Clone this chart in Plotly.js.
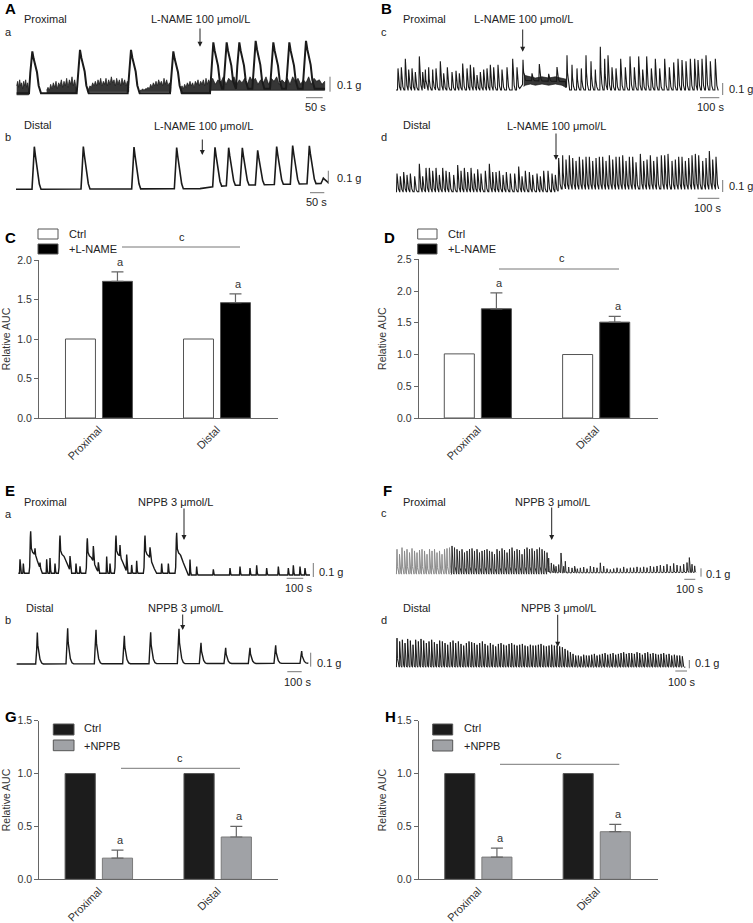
<!DOCTYPE html>
<html><head><meta charset="utf-8">
<script src="https://cdn.plot.ly/plotly-3.0.1.min.js"></script>
<style>html,body{margin:0;padding:0;background:#fff}#chart{width:753px;height:923px}</style>
</head><body><div id="chart"></div>
<script>
// ---------------- DATA ----------------
const cats = ['Proximal', 'Distal'];
// Bar panels (relative AUC)
const cCtrl = [1.0, 1.0], cLname = [1.73, 1.46], cErr = [0.12, 0.11];
const dCtrl = [1.01, 1.0], dLname = [1.72, 1.51], dErr = [0.25, 0.09];
const gCtrl = [1.0, 1.0], gNppb = [0.20, 0.40], gErr = [0.075, 0.10];
const hCtrl = [1.0, 1.0], hNppb = [0.21, 0.45], hErr = [0.085, 0.07];

// Panel A a (proximal): peak times (s) and amplitudes (g)
const aaPeakT = [97, 240, 393, 520, 640, 680, 718, 767, 820, 868, 918];
const aaPeakH = [0.28, 0.29, 0.29, 0.28, 0.31, 0.31, 0.31, 0.32, 0.31, 0.31, 0.32];
const aaBaseT = [50, 630, 640, 975];
const aaBaseY = [0, 0, 0.03, 0.03];
// noisy baseline bands: start time, sampling step, upper envelope, lower level
const aaNoiseStart = [50, 140, 262, 420, 542, 630];
const aaNoiseStep = [3, 4, 4, 4, 4, 8];
const aaNoiseHi = [
  [0.05, 0.08, 0.04, 0.09, 0.05, 0.07, 0.03, 0.08, 0.05, 0.09, 0.04, 0.07, 0.02],
  [0.02, 0.04, 0.02, 0.06, 0.03, 0.07, 0.04, 0.08, 0.03, 0.07, 0.05, 0.09, 0.04, 0.08, 0.05, 0.1, 0.04, 0.09, 0.06, 0.11, 0.05, 0.09, 0.04],
  [0.02, 0.03, 0.05, 0.04, 0.07, 0.05, 0.08, 0.05, 0.09, 0.06, 0.1, 0.05, 0.08, 0.06, 0.1, 0.05, 0.09, 0.06, 0.11, 0.07, 0.09, 0.05, 0.1, 0.06, 0.09, 0.05, 0.1, 0.06, 0.09, 0.05, 0.08, 0.04],
  [0.02, 0.02, 0.03, 0.02, 0.03, 0.03, 0.04, 0.03, 0.06, 0.04, 0.07, 0.05, 0.08, 0.05, 0.09, 0.06, 0.08, 0.05, 0.1, 0.06, 0.09, 0.05, 0.07, 0.04],
  [0.03, 0.05, 0.03, 0.06, 0.04, 0.07, 0.05, 0.08, 0.05, 0.07, 0.04, 0.08, 0.06, 0.09, 0.05, 0.08, 0.06, 0.09, 0.05, 0.1, 0.06, 0.09, 0.07],
  [0.07, 0.1, 0.06, 0.09, 0.07, 0.11, 0.06, 0.1, 0.08, 0.11, 0.06, 0.09, 0.07, 0.1, 0.06, 0.11, 0.08, 0.1, 0.06, 0.09, 0.07, 0.11, 0.06, 0.1, 0.08, 0.11, 0.06, 0.09, 0.07, 0.1, 0.06, 0.11, 0.08, 0.1, 0.06, 0.09, 0.07, 0.11, 0.06, 0.1, 0.08, 0.09, 0.06, 0.08]
];
const aaNoiseLo = [-0.01, 0, 0.01, 0.01, 0, 0.02];
// Panel A b (distal)
const abPeakT = [103, 250, 402, 530, 645, 686, 727, 773, 830, 878, 928, 970];
const abPeakH = [0.32, 0.32, 0.315, 0.31, 0.295, 0.285, 0.28, 0.26, 0.285, 0.29, 0.285, 0.04];
const abBaseT = [48, 600, 640, 700, 800, 900, 985];
const abBaseY = [0, 0.005, 0.02, 0.03, 0.035, 0.04, 0.045];
// Panel B c (proximal)
const bcPeakT = [36, 56, 80, 100, 120, 140, 164, 184, 200, 220, 244, 264, 290, 310, 332, 360, 384, 404, 424, 450, 470, 490, 510, 530, 550, 570, 590, 610, 636, 660, 690, 724, 750, 786,
  840, 884, 940, 990,
  1050, 1080, 1110, 1136, 1164, 1194, 1220, 1250, 1276, 1296, 1320, 1344, 1372, 1400, 1428, 1454, 1480, 1504, 1528, 1556, 1580, 1606, 1636, 1664, 1690, 1716, 1740, 1764, 1790, 1816, 1836, 1860, 1884, 1910, 1940];
const bcPeakH = [0.18, 0.19, 0.26, 0.17, 0.18, 0.15, 0.28, 0.15, 0.17, 0.19, 0.17, 0.18, 0.24, 0.14, 0.19, 0.15, 0.16, 0.14, 0.22, 0.18, 0.21, 0.19, 0.125, 0.15, 0.17, 0.18, 0.21, 0.19, 0.21, 0.17, 0.19, 0.26, 0.19, 0.2,
  0.06, 0.14, 0.06, 0.12,
  0.29, 0.21, 0.18, 0.18, 0.29, 0.24, 0.17, 0.36, 0.26, 0.29, 0.19, 0.18, 0.26, 0.19, 0.28, 0.19, 0.28, 0.17, 0.28, 0.18, 0.26, 0.18, 0.26, 0.19, 0.23, 0.26, 0.25, 0.24, 0.26, 0.26, 0.25, 0.26, 0.29, 0.24, 0.26];
const bcBaseT = [24, 760, 790, 800, 1040, 1050, 1960];
const bcBaseY = [0, 0, 0.06, 0.08, 0.07, 0, 0];
const bcNoiseT = [790, 800, 830, 860, 900, 940, 980, 1020, 1044];
const bcNoiseHi = [0.14, 0.12, 0.11, 0.1, 0.11, 0.1, 0.11, 0.1, 0.09];
const bcNoiseLo = [0.03, 0.04, 0.05, 0.04, 0.05, 0.04, 0.05, 0.04, 0.02];
// Panel B d (distal)
const bdPeakT = [30, 50, 70, 90, 110, 136, 164, 184, 204, 224, 244, 264, 284, 304, 324, 344, 370, 394, 414, 434, 454, 474, 494, 514, 534, 560, 584, 604, 624, 644, 666, 686, 710, 736, 760, 780, 800, 824, 844, 870, 890, 910, 936, 960, 980, 1000, 1024, 1044, 1064, 1084, 1104, 1124, 1144, 1164, 1184, 1204, 1224, 1244, 1264, 1284, 1304, 1324, 1344, 1364, 1384, 1404, 1424, 1444, 1464, 1490, 1510, 1530, 1550, 1570, 1590, 1616, 1636, 1656, 1680, 1700, 1720, 1740, 1760, 1780, 1800, 1820, 1840, 1864, 1884, 1904, 1924, 1944];
const bdPeakH = [0.13, 0.11, 0.14, 0.12, 0.13, 0.11, 0.20, 0.11, 0.17, 0.17, 0.15, 0.17, 0.12, 0.17, 0.15, 0.14, 0.12, 0.19, 0.15, 0.17, 0.14, 0.17, 0.13, 0.16, 0.13, 0.15, 0.20, 0.14, 0.14, 0.15, 0.12, 0.14, 0.13, 0.13, 0.18, 0.11, 0.15, 0.14, 0.12, 0.13, 0.11, 0.15, 0.15, 0.13, 0.12, 0.23, 0.24, 0.21, 0.24, 0.22, 0.20, 0.23, 0.21, 0.23, 0.23, 0.20, 0.22, 0.23, 0.23, 0.20, 0.24, 0.21, 0.23, 0.23, 0.24, 0.20, 0.23, 0.23, 0.19, 0.25, 0.20, 0.21, 0.24, 0.20, 0.23, 0.24, 0.24, 0.25, 0.20, 0.21, 0.23, 0.23, 0.20, 0.22, 0.24, 0.25, 0.24, 0.20, 0.22, 0.27, 0.21, 0.23];
const bdBaseT = [24, 990, 1010, 1960];
const bdBaseY = [0, 0, 0.02, 0.02];
// Panel E a (proximal)
const eaPeakT = [184, 360, 524, 696, 870, 1060];
const eaPeakH = [0.30, 0.27, 0.25, 0.27, 0.27, 0.29];
const eaSpikeT = [120, 140, 210, 240, 280, 300, 330, 420, 456, 480, 560, 590, 640, 660, 720, 760, 790, 820, 900, 970, 1010, 1140, 1180, 1280, 1380, 1440, 1500, 1540, 1600, 1670, 1730, 1760, 1800, 1830];
const eaSpikeH = [0.10, 0.07, 0.05, 0.04, 0.10, 0.11, 0.07, 0.10, 0.07, 0.05, 0.11, 0.07, 0.12, 0.07, 0.08, 0.12, 0.06, 0.09, 0.08, 0.07, 0.07, 0.11, 0.06, 0.04, 0.05, 0.06, 0.05, 0.07, 0.05, 0.06, 0.05, 0.07, 0.06, 0.05];
const eaBaseT = [110, 1080, 1100, 1860];
const eaBaseY = [0.012, 0.012, 0, 0];
// Panel E b (distal)
const ebPeakT = [224, 406, 576, 746, 904, 1074, 1206, 1354, 1500, 1654, 1810];
const ebPeakH = [0.224, 0.255, 0.243, 0.2, 0.224, 0.248, 0.148, 0.112, 0.112, 0.129, 0.088];
const ebBaseT = [100, 1850];
const ebBaseY = [0, 0.005];
// Panel F c (proximal): regular rhythm before NPPB, then small spikes
const fcStart = 45, fcPeriod = 22.5;
const fcRhythmH = [0.30, 0.24, 0.32, 0.28, 0.30, 0.26, 0.31, 0.28, 0.26, 0.29, 0.30, 0.28, 0.24, 0.30, 0.28, 0.30, 0.26, 0.28, 0.24, 0.30, 0.31, 0.32, 0.34, 0.32, 0.30, 0.28, 0.30, 0.26, 0.28, 0.30, 0.31, 0.28, 0.30, 0.26, 0.28, 0.29, 0.30, 0.28, 0.27, 0.24, 0.30, 0.28, 0.31, 0.29, 0.26, 0.30, 0.32, 0.28, 0.30, 0.29, 0.24, 0.30, 0.32, 0.30, 0.31, 0.28, 0.30, 0.32, 0.30, 0.28, 0.26];
const fcSpikeT = [1410, 1434, 1455, 1476, 1500, 1521, 1545, 1560, 1590, 1620, 1644, 1668, 1695, 1725, 1755, 1785, 1815, 1845, 1875, 1905, 1935, 1965, 1995, 2025, 2055, 2085, 2115, 2145, 2175, 2205, 2235, 2265, 2295, 2325, 2355, 2385, 2415, 2445, 2475, 2505, 2535, 2565, 2595, 2625, 2655, 2676, 2700, 2724];
const fcSpikeH = [0.18, 0.12, 0.10, 0.08, 0.10, 0.24, 0.08, 0.14, 0.07, 0.06, 0.08, 0.05, 0.06, 0.07, 0.05, 0.08, 0.07, 0.06, 0.12, 0.08, 0.05, 0.04, 0.05, 0.06, 0.05, 0.07, 0.05, 0.06, 0.06, 0.07, 0.06, 0.07, 0.06, 0.08, 0.07, 0.08, 0.09, 0.08, 0.10, 0.08, 0.11, 0.09, 0.08, 0.10, 0.12, 0.18, 0.10, 0.08];
const fcBaseT = [40, 1400, 1420, 2735];
const fcBaseY = [0.01, 0.01, 0.025, 0.03];
// Panel F d (distal)
const fdStart = 45, fdPeriod = 24;
const fdRhythmH = [0.35, 0.31, 0.33, 0.29, 0.34, 0.32, 0.27, 0.33, 0.31, 0.34, 0.32, 0.29, 0.31, 0.33, 0.30, 0.28, 0.32, 0.31, 0.29, 0.27, 0.30, 0.32, 0.29, 0.31, 0.28, 0.26, 0.29, 0.31, 0.30, 0.29, 0.27, 0.29, 0.31, 0.28, 0.26, 0.29, 0.27, 0.25, 0.28, 0.29, 0.27, 0.26, 0.28, 0.29, 0.27, 0.26, 0.27, 0.28, 0.26, 0.25, 0.27, 0.26, 0.26, 0.27, 0.28, 0.26, 0.25, 0.26, 0.27, 0.26, 0.26,
  0.25, 0.24, 0.22, 0.20, 0.18, 0.16, 0.14,
  0.14, 0.13, 0.15, 0.14, 0.14, 0.15, 0.16, 0.14, 0.15, 0.16, 0.17, 0.15, 0.16, 0.17, 0.15, 0.16, 0.17, 0.18, 0.16, 0.17, 0.17, 0.16, 0.18, 0.17, 0.15, 0.17, 0.18, 0.16, 0.17, 0.16, 0.15, 0.16, 0.17, 0.15, 0.16, 0.14, 0.15, 0.14, 0.14, 0.13];
const fdBaseT = [40, 2640];
const fdBaseY = [0.01, 0.01];

// ---------------- HELPERS ----------------
const W = 753, H = 923;
const FONT = 'Liberation Sans, Arial, sans-serif';
const INK = '#1a1a1a';
const xd = (a, b) => [a / W, b / W];
const yd = (top, bot) => [1 - bot / H, 1 - top / H];
function interp(xs, ys, x) {
  if (x <= xs[0]) return ys[0];
  const n = xs.length;
  if (x >= xs[n - 1]) return ys[n - 1];
  for (let i = 1; i < n; i++) if (x <= xs[i]) { const f = (x - xs[i - 1]) / (xs[i] - xs[i - 1]); return ys[i - 1] + f * (ys[i] - ys[i - 1]); }
}
// waveform templates: [time offset, fraction of amplitude]
const TPL_A1 = [[-10, 0], [-6, 0.5], [-2, 0.95], [0, 1], [4, 0.82], [9, 0.68], [14, 0.5], [19, 0.18], [26, 0]];
const TPL_A2 = [[-7, 0], [-3, 0.55], [0, 1], [3, 0.8], [7, 0.55], [11, 0.3], [15, 0.12], [20, 0]];
const TPL_B = [[-3, 0], [0, 1], [3, 0.5], [9, 0.15], [16, 0]];
const TPL_E1 = [[-10, 0], [-6, 0.15], [-2, 0.85], [0, 1], [4, 0.6], [12, 0.5], [24, 0.45], [40, 0.3], [56, 0.12], [70, 0]];
const TPL_SP = [[-3, 0], [0, 1], [4, 0.2], [8, 0]];
const TPL_E2 = [[-10, 0], [-4, 0.45], [0, 1], [3, 0.6], [8, 0.4], [16, 0.15], [26, 0.03], [36, 0]];
const TPL_F = [[-4, 0], [0, 1], [4, 0.3], [12, 0.05], [18, 0]];
const TPL_FS = [[-4, 0], [0, 1], [5, 0.2], [12, 0]];

function buildLine(groups, bt, by) {
  const set = new Set(bt);
  groups.forEach(g => g.t.forEach(t => g.tpl.forEach(p => set.add(Math.round((t + p[0]) * 100) / 100))));
  const t0 = bt[0], t1 = bt[bt.length - 1];
  const xs = [...set].filter(x => x >= t0 && x <= t1).sort((a, b) => a - b);
  const ys = xs.map(x => {
    let y = interp(bt, by, x);
    groups.forEach(g => {
      const tx = g.tpl.map(p => p[0]), ty = g.tpl.map(p => p[1]);
      const lo = tx[0], hi = tx[tx.length - 1];
      g.t.forEach((tc, i) => { const d = x - tc; if (d > lo && d < hi) y += g.h[i] * interp(tx, ty, d); });
    });
    return y;
  });
  return { x: xs, y: ys };
}
const regular = (start, period, hs) => hs.map((_, i) => start + i * period);

const data = [];
function addLine(ax, groups, bt, by, color, width) {
  const r = buildLine(groups, bt, by);
  data.push({ type: 'scatter', mode: 'lines', x: r.x, y: r.y, xaxis: 'x' + ax, yaxis: 'y' + ax,
    line: { color: color, width: width }, hoverinfo: 'skip', showlegend: false });
}
function addBand(ax, t, hi, lo) {
  data.push({ type: 'scatter', mode: 'lines', x: t.concat(t.slice().reverse()), y: hi.concat(lo.slice().reverse()),
    fill: 'toself', fillcolor: 'rgba(26,26,26,0.88)', line: { color: INK, width: 0.7 }, xaxis: 'x' + ax, yaxis: 'y' + ax, hoverinfo: 'skip', showlegend: false });
}

// ---------------- TRACES (recordings) ----------------
aaNoiseHi.forEach((hi, i) => {
  const t = regular(aaNoiseStart[i], aaNoiseStep[i], hi);
  addBand('', t, hi, hi.map(() => aaNoiseLo[i]));
});
addLine('', [{ t: aaPeakT, h: aaPeakH, tpl: TPL_A1 }], aaBaseT, aaBaseY, INK, 2);
addLine('2', [{ t: abPeakT, h: abPeakH, tpl: TPL_A2 }], abBaseT, abBaseY, INK, 1.6);
addBand('3', bcNoiseT, bcNoiseHi, bcNoiseLo);
addLine('3', [{ t: bcPeakT, h: bcPeakH, tpl: TPL_B }], bcBaseT, bcBaseY, INK, 1.1);
addLine('4', [{ t: bdPeakT, h: bdPeakH, tpl: TPL_B }], bdBaseT, bdBaseY, INK, 1.1);
addLine('5', [{ t: eaPeakT, h: eaPeakH, tpl: TPL_E1 }, { t: eaSpikeT, h: eaSpikeH, tpl: TPL_SP }], eaBaseT, eaBaseY, INK, 1.4);
addLine('6', [{ t: ebPeakT, h: ebPeakH, tpl: TPL_E2 }], ebBaseT, ebBaseY, INK, 1.4);
const fcT = regular(fcStart, fcPeriod, fcRhythmH);
addLine('7', [{ t: fcT.slice(0, 22), h: fcRhythmH.slice(0, 22), tpl: TPL_F }], [40, 530], [0.01, 0.01], '#8a8a8a', 1);
addLine('7', [{ t: fcT.slice(22), h: fcRhythmH.slice(22), tpl: TPL_F }, { t: fcSpikeT, h: fcSpikeH, tpl: TPL_FS }], fcBaseT.map(v => Math.max(v, 530)), fcBaseY, '#2a2a2a', 1);
addLine('8', [{ t: regular(fdStart, fdPeriod, fdRhythmH), h: fdRhythmH, tpl: TPL_F }], fdBaseT, fdBaseY, INK, 1);

// ---------------- BARS ----------------
const barLine = { color: '#555', width: 1 };
const errStyle = arr => ({ type: 'data', symmetric: false, array: arr, arrayminus: [0, 0], color: '#666', thickness: 1.2, width: 6 });
data.push({ type: 'bar', x: cats, y: cCtrl, xaxis: 'x9', yaxis: 'y9', marker: { color: '#ffffff', line: barLine }, showlegend: false, hoverinfo: 'skip' });
data.push({ type: 'bar', x: cats, y: cLname, xaxis: 'x9', yaxis: 'y9', marker: { color: '#000000', line: barLine }, error_y: errStyle(cErr), showlegend: false, hoverinfo: 'skip' });
data.push({ type: 'bar', x: cats, y: dCtrl, xaxis: 'x10', yaxis: 'y10', marker: { color: '#ffffff', line: barLine }, showlegend: false, hoverinfo: 'skip' });
data.push({ type: 'bar', x: cats, y: dLname, xaxis: 'x10', yaxis: 'y10', marker: { color: '#000000', line: barLine }, error_y: errStyle(dErr), showlegend: false, hoverinfo: 'skip' });
data.push({ type: 'bar', x: cats, y: gCtrl, xaxis: 'x11', yaxis: 'y11', marker: { color: '#1c1c1c', line: barLine }, showlegend: false, hoverinfo: 'skip' });
data.push({ type: 'bar', x: cats, y: gNppb, xaxis: 'x11', yaxis: 'y11', marker: { color: '#a0a2a6', line: { color: '#7a7a7a', width: 1 } }, error_y: errStyle(gErr), showlegend: false, hoverinfo: 'skip' });
data.push({ type: 'bar', x: cats, y: hCtrl, xaxis: 'x12', yaxis: 'y12', marker: { color: '#1c1c1c', line: barLine }, showlegend: false, hoverinfo: 'skip' });
data.push({ type: 'bar', x: cats, y: hNppb, xaxis: 'x12', yaxis: 'y12', marker: { color: '#a0a2a6', line: { color: '#7a7a7a', width: 1 } }, error_y: errStyle(hErr), showlegend: false, hoverinfo: 'skip' });

// ---------------- LAYOUT ----------------
const layout = {
  width: W, height: H, margin: { l: 0, r: 0, t: 0, b: 0 }, paper_bgcolor: '#fff', plot_bgcolor: 'rgba(0,0,0,0)',
  font: { family: FONT, color: '#222', size: 11 }, showlegend: false,
  barmode: 'group', bargap: 0.373, bargroupgap: 0.19,
  shapes: [], annotations: []
};
// recording axes: [id, x px, t range, baseline px, scale-bar px per 0.1 g, top px, bottom px]
const recAxes = [
  ['', [10, 335], [30, 1005], 93.3, 15, 40, 98],
  ['2', [10, 335], [30, 1005], 189.3, 13.3, 138, 195],
  ['3', [392, 722], [0, 1980], 90, 12, 40, 96],
  ['4', [392, 722], [0, 1980], 191.7, 14, 145, 197],
  ['5', [10, 320], [60, 1920], 575, 14, 525, 580],
  ['6', [10, 320], [60, 1920], 664, 14, 620, 669],
  ['7', [392, 702], [0, 2790], 575, 8.3, 540, 580],
  ['8', [392, 702], [0, 2790], 668, 8.3, 632, 672]
];
recAxes.forEach(a => {
  const [id, xp, tr, base, sb, top, bot] = a;
  layout['xaxis' + id] = { domain: xd(xp[0], xp[1]), range: tr, visible: false, anchor: 'y' + id, fixedrange: true };
  layout['yaxis' + id] = { domain: yd(top, bot), range: [-(bot - base) / sb * 0.1, (base - top) / sb * 0.1], visible: false, anchor: 'x' + id, fixedrange: true };
});
// bar axes
const barAxes = [
  ['9', [39, 278], [-0.508, 1.517], 260, 418, 2.0],
  ['10', [418.7, 657.7], [-0.50, 1.52], 259.3, 418, 2.5],
  ['11', [39.3, 278.3], [-0.501, 1.51], 720.7, 879.3, 1.5],
  ['12', [418.7, 657.7], [-0.504, 1.515], 720.7, 879.3, 1.5]
];
barAxes.forEach(a => {
  const [id, xp, xr, top, bot, ymax] = a;
  layout['xaxis' + id] = { domain: xd(xp[0], xp[1]), range: xr, type: 'category', anchor: 'y' + id, showline: true, linecolor: '#666', linewidth: 1,
    ticks: '', tickangle: -45, tickfont: { size: 11, color: '#333' }, showgrid: false, zeroline: false, fixedrange: true };
  layout['yaxis' + id] = { domain: yd(top, bot), range: [0, ymax], dtick: 0.5, tickformat: '.1f', anchor: 'x' + id, showline: true, linecolor: '#666', linewidth: 1,
    ticks: 'outside', ticklen: 4, tickcolor: '#666', tickfont: { size: 10.5, color: '#333' }, showgrid: false, zeroline: false, fixedrange: true,
    title: { text: 'Relative AUC', font: { size: 10.5, color: '#333' }, standoff: 8 } };
});

// "a" significance labels above treated bars
[['9', cLname, cErr], ['10', dLname, dErr], ['11', gNppb, gErr], ['12', hNppb, hErr]].forEach(s => {
  cats.forEach((c, i) => layout.annotations.push({ xref: 'x' + s[0], yref: 'y' + s[0], x: c, y: s[1][i] + s[2][i], xshift: 22, yshift: 2,
    yanchor: 'bottom', text: 'a', showarrow: false, font: { size: 11, color: '#333' } }));
});

const P = (x, y) => [x / W, 1 - y / H];
function txt(t, x, y, anchor, size, bold) {
  const p = P(x, y);
  layout.annotations.push({ xref: 'paper', yref: 'paper', x: p[0], y: p[1], xanchor: anchor || 'left', yanchor: 'middle',
    text: bold ? '<b>' + t + '</b>' : t, showarrow: false, font: { size: size || 11, color: bold ? '#000' : '#222' } });
}
function line(x0, y0, x1, y1, color, w) {
  const a = P(x0, y0), b = P(x1, y1);
  layout.shapes.push({ type: 'line', xref: 'paper', yref: 'paper', x0: a[0], y0: a[1], x1: b[0], y1: b[1], line: { color: color || '#666', width: w || 1 } });
}
function rect(x0, y0, x1, y1, fill) {
  const a = P(x0, y0), b = P(x1, y1);
  layout.shapes.push({ type: 'rect', xref: 'paper', yref: 'paper', x0: a[0], y0: b[1], x1: b[0], y1: a[1], fillcolor: fill, line: { color: '#555', width: 1 } });
}
function arrow(x, yTail, yTip) {
  const p = P(x, yTip);
  layout.annotations.push({ xref: 'paper', yref: 'paper', x: p[0], y: p[1], ax: 0, ay: -(yTip - yTail), text: '', showarrow: true,
    arrowhead: 2, arrowsize: 1, arrowwidth: 1, arrowcolor: '#222', standoff: 0 });
}
// panel letters
[['A', 3, 8.5], ['B', 379, 8.5], ['C', 3, 237], ['D', 382, 237], ['E', 3, 490], ['F', 381, 490], ['G', 3, 716], ['H', 383, 716]]
  .forEach(l => txt(l[0], l[1], l[2], 'left', 15, true));
// recording labels
const LN = 'L-NAME 100 μmol/L', NP = 'NPPB 3 μmol/L';
[['Proximal', 21.7, 19], ['a', 3, 32], ['Distal', 21.7, 125], ['b', 3, 137],
 ['Proximal', 401, 19], ['c', 379, 32], ['Distal', 401, 125], ['d', 379, 137],
 ['Proximal', 21.7, 501.7], ['a', 3, 514], ['Distal', 24, 608], ['b', 3, 620],
 ['Proximal', 401, 501.7], ['c', 379, 513], ['Distal', 401, 608], ['d', 379, 620],
 ['0.1 g', 335, 85], ['0.1 g', 335, 178.3], ['0.1 g', 727, 89], ['0.1 g', 727, 185.7],
 ['0.1 g', 316.7, 571.7], ['0.1 g', 315.3, 663.3], ['0.1 g', 704.3, 574], ['0.1 g', 692.7, 663.3],
 ['Ctrl', 67, 234], ['+L-NAME', 67, 249], ['Ctrl', 446, 234], ['+L-NAME', 446, 249],
 ['Ctrl', 82, 728], ['+NPPB', 82, 745.7], ['Ctrl', 461.7, 728], ['+NPPB', 461.7, 745.7]
].forEach(l => txt(l[0], l[1], l[2], 'left'));
[[LN, 200.3, 19], [LN, 203.3, 126], [LN, 523, 19], [LN, 556.8, 126],
 [NP, 175.8, 502.3], [NP, 185.8, 608], [NP, 552.3, 501.7], [NP, 558.5, 608],
 ['50 s', 315, 107], ['50 s', 316.7, 201.7], ['100 s', 710.3, 107.3], ['100 s', 707.7, 208],
 ['100 s', 298, 588], ['100 s', 297.7, 681.7], ['100 s', 689.3, 589.3], ['100 s', 681, 681.7],
 ['c', 182, 237], ['c', 561.7, 258], ['c', 180, 757.7], ['c', 558.7, 755]
].forEach(l => txt(l[0], l[1], l[2], 'center'));
// arrows
arrow(200, 27, 46.7); arrow(202.3, 138, 155); arrow(522.7, 28, 51.7); arrow(556, 132, 160);
arrow(184, 507, 540); arrow(182.7, 613, 630); arrow(551.7, 506, 540); arrow(557.7, 613.3, 646.7);
// scale bars
[[330, 76.7, 91.7], [328.3, 170.7, 184], [722.7, 83, 95], [722.7, 180, 192], [313.3, 563, 577], [310.7, 652.7, 666.7], [701, 568.3, 576.7], [689.3, 660, 668.3]]
  .forEach(s => line(s[0], s[1], s[0], s[2], '#777', 1));
[[306, 322.7, 97.7], [310, 324.3, 192.7], [700, 719.3, 97.7], [697.7, 719.3, 198.3], [286.7, 303.3, 578.3], [287.3, 301.7, 671.7], [684.3, 695.3, 579.3], [675.3, 687, 671]]
  .forEach(s => line(s[0], s[2], s[1], s[2], '#777', 1));
// significance lines
line(122, 247, 240, 247, '#777'); line(499, 269, 619, 269, '#777'); line(121, 768.3, 240, 768.3, '#777'); line(500, 764.3, 619.3, 764.3, '#777');
// legend boxes
rect(38, 229, 58, 239, '#ffffff'); rect(38, 244, 58, 254, '#000000');
rect(417.7, 229, 437, 239, '#ffffff'); rect(417.7, 244, 437, 254, '#000000');
rect(53.3, 724, 74, 735, '#1c1c1c'); rect(53.3, 740, 74, 750.7, '#a0a2a6');
rect(432.7, 724, 452.7, 735, '#1c1c1c'); rect(432.7, 740, 452.7, 751, '#a0a2a6');

Plotly.newPlot('chart', data, layout, { staticPlot: true, displayModeBar: false });
</script></body></html>
